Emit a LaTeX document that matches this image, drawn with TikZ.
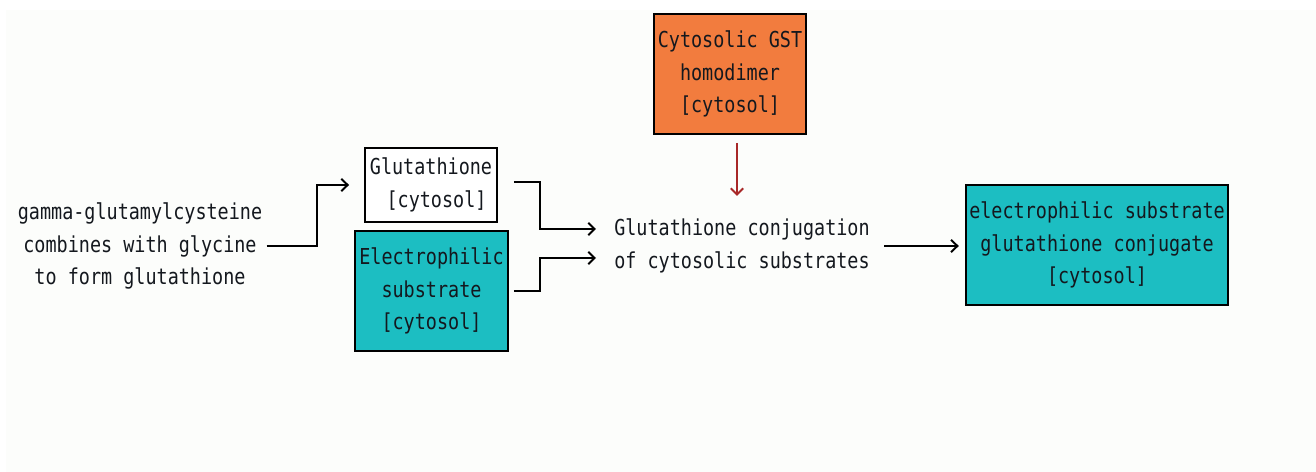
\documentclass[tikz,border=0pt]{standalone}
\usepackage{fontspec}
\setmonofont[FakeStretch=0.84]{DejaVu Sans Mono}
\usetikzlibrary{arrows.meta}
\definecolor{pathteal}{RGB}{28,190,194}
\definecolor{pathorange}{RGB}{242,124,62}
\definecolor{pathred}{RGB}{168,40,40}
\definecolor{pathbg}{RGB}{252,253,251}
\definecolor{pathink}{RGB}{20,24,30}

\begin{document}
\begin{tikzpicture}[x=0.02cm, y=-0.02cm, >={Straight Barb[length=3.6pt,width=7pt]},
  line width=1.1pt, text=pathink,
  font=\ttfamily\fontsize{12.5}{18.5}\selectfont]
\tikzset{
  plainbox/.style={draw, align=center, fill=white, inner sep=2pt},
  tealbox/.style={draw, align=center, fill=pathteal, inner sep=2pt},
  orangebox/.style={draw, align=center, fill=pathorange, inner sep=2pt},
  steptext/.style={align=center, inner sep=2pt}
}
\useasboundingbox (0,0) rectangle (1316,472);
\fill[pathbg] (6,10) rectangle (1316,472);

\node[steptext] (gg) at (140,246) {gamma-glutamylcysteine\\combines with glycine\\to form glutathione};
\node[plainbox, minimum width=2.64cm, minimum height=1.48cm] (glut) at (431,185) {Glutathione\\\ [cytosol]};
\node[tealbox, minimum width=3.06cm, minimum height=2.4cm] (elec) at (431.5,291) {Electrophilic\\substrate\\{[cytosol]}};
\node[orangebox, minimum width=2.8cm, minimum height=2.4cm] (gst) at (730,74) {Cytosolic GST\\homodimer\\{[cytosol]}};
\node[steptext] (gc) at (742,246) {Glutathione conjugation\\of cytosolic substrates};
\node[tealbox, minimum width=5.24cm, minimum height=2.4cm] (conj) at (1097,245) {electrophilic substrate\\glutathione conjugate\\{[cytosol]}};

% arrow ends in front of the conjugation text
\coordinate (gcin1) at (596,229);
\coordinate (gcin2) at (596,258);

\draw[->, shorten >=0.3cm] (gg.east) -- ++(50,0) |- (glut.west);
\draw[->] ([xshift=0.32cm, yshift=0.06cm]glut.east) -- ++(26,0) |- (gcin1);
\draw[->] ([xshift=0.1cm]elec.east) -- ++(26,0) |- (gcin2);
\draw[->, pathred] ([xshift=0.14cm, yshift=-0.16cm]gst.south) -- ++(0,53);
\draw[->, shorten <=0.2cm, shorten >=0.12cm] (gc.east) -- (gc.east -| conj.west);
\end{tikzpicture}
\end{document}
